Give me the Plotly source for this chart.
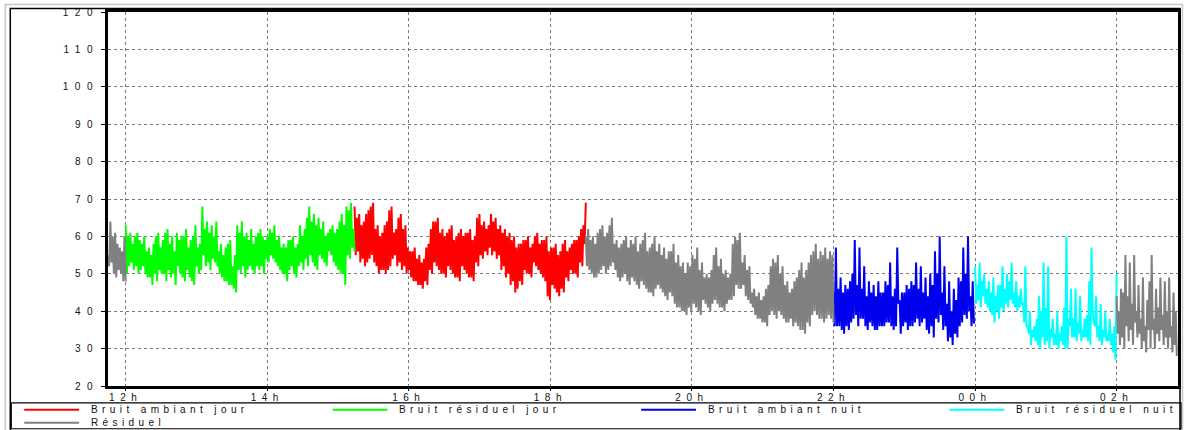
import numpy as np
import pandas as pd
import plotly.graph_objects as go

# ---------------- data (dB(A) levels) ----------------
series_names = ["Bruit ambiant jour", "Bruit résiduel jour", "Bruit ambiant nuit",
                "Bruit résiduel nuit", "Résiduel"]
series_colors = ["#FF0000", "#00FF00", "#0000F0", "#00FFFF", "#808080"]

# segment boundaries
grey1_span = ("2000-01-01 11:45", "2000-01-01 12:00")
green_span = ("2000-01-01 12:00", "2000-01-01 15:14")
red_span = ("2000-01-01 15:14", "2000-01-01 18:30")
grey2_span = ("2000-01-01 18:30", "2000-01-01 22:00")
blue_span = ("2000-01-01 22:00", "2000-01-02 00:00")
cyan_span = ("2000-01-02 00:00", "2000-01-02 02:00")
grey3_span = ("2000-01-02 02:00", "2000-01-02 02:51")

grey1_vals = [55, 52, 64, 53, 60, 50, 61, 49, 58, 51, 57, 50, 56, 48, 60, 48]
green_vals = [63, 50, 60, 52, 61, 53, 58, 51, 60, 52, 61, 50, 59, 51, 58, 52, 60, 50, 56, 49,
              57, 49, 55, 47, 58, 50, 60, 48, 61, 51, 57, 50, 59, 50, 61, 48, 62, 51, 58, 49,
              60, 50, 56, 47, 61, 52, 59, 50, 60, 49, 60, 48, 62, 51, 57, 49, 59, 48, 60, 47,
              63, 52, 57, 50, 58, 51, 68, 55, 62, 52, 64, 53, 61, 51, 63, 54, 60, 53, 64, 52,
              56, 50, 58, 49, 55, 48, 57, 48, 58, 47, 59, 47, 52, 46, 55, 45, 63, 51, 61, 50,
              64, 52, 60, 49, 61, 51, 59, 52, 62, 51, 58, 50, 60, 52, 61, 51, 62, 52, 60, 50,
              59, 54, 60, 53, 62, 55, 61, 54, 63, 53, 59, 52, 60, 51, 57, 50, 58, 50, 57, 48,
              59, 51, 59, 52, 60, 50, 57, 49, 58, 52, 63, 53, 60, 51, 62, 54, 65, 52, 68, 55,
              64, 53, 66, 52, 63, 51, 65, 55, 62, 54, 64, 53, 60, 52, 61, 56, 62, 55, 63, 53,
              61, 52, 62, 51, 64, 50, 66, 50, 63, 47, 68, 55, 67, 54, 69, 57, 62, 56]
red_vals = [68, 55, 65, 56, 66, 53, 63, 54, 64, 52, 66, 53, 67, 54, 68, 55, 69, 53, 62, 52,
            63, 50, 60, 51, 61, 51, 63, 50, 64, 51, 67, 52, 68, 54, 61, 55, 62, 52, 65, 53,
            66, 51, 62, 52, 63, 50, 57, 51, 56, 49, 56, 48, 57, 48, 54, 47, 55, 47, 53, 46,
            54, 48, 57, 47, 58, 51, 62, 50, 64, 53, 64, 52, 65, 51, 61, 50, 62, 50, 60, 49,
            61, 52, 62, 51, 63, 50, 59, 49, 60, 49, 61, 48, 62, 52, 60, 51, 61, 50, 61, 49,
            62, 49, 59, 48, 60, 53, 65, 52, 66, 55, 63, 54, 64, 56, 62, 55, 63, 57, 66, 55,
            64, 56, 65, 54, 62, 55, 63, 51, 61, 52, 62, 49, 60, 50, 61, 47, 59, 48, 60, 45,
            57, 46, 58, 48, 58, 47, 59, 51, 59, 50, 60, 50, 57, 49, 58, 53, 60, 52, 61, 51,
            58, 50, 59, 49, 59, 48, 60, 44, 56, 43, 57, 47, 57, 46, 58, 45, 55, 44, 56, 46,
            58, 45, 59, 49, 56, 48, 57, 51, 58, 50, 59, 50, 59, 49, 60, 53, 62, 52, 63, 58,
            69]
grey2_vals = [60, 52, 62, 51, 59, 50, 60, 49, 58, 49, 61, 50, 62, 51, 63, 52, 60, 50, 61, 51,
              63, 52, 65, 53, 58, 51, 59, 49, 57, 48, 58, 49, 59, 50, 60, 48, 57, 47, 59, 49,
              58, 48, 60, 47, 56, 46, 58, 48, 59, 47, 61, 46, 56, 45, 57, 45, 58, 44, 60, 46,
              56, 47, 58, 46, 55, 45, 57, 44, 54, 43, 56, 45, 56, 44, 58, 42, 53, 41, 55, 41,
              52, 40, 53, 40, 50, 39, 53, 41, 52, 40, 55, 42, 54, 41, 57, 40, 51, 39, 53, 43,
              49, 42, 50, 41, 49, 40, 51, 42, 55, 43, 57, 42, 52, 41, 54, 41, 50, 40, 51, 42,
              49, 43, 50, 43, 58, 44, 60, 47, 59, 46, 61, 46, 53, 47, 55, 44, 51, 43, 52, 42,
              45, 41, 46, 39, 44, 38, 45, 38, 43, 37, 44, 37, 46, 36, 47, 39, 52, 40, 54, 39,
              53, 38, 55, 40, 50, 39, 52, 38, 47, 37, 48, 37, 45, 38, 46, 36, 48, 37, 49, 36,
              51, 35, 53, 35, 49, 34, 51, 37, 53, 36, 55, 39, 56, 40, 58, 39, 54, 38, 56, 38,
              55, 37, 57, 38, 54, 39, 56, 38, 55, 37]
blue_vals = [45, 36, 57, 36, 46, 36, 49, 35, 45, 34, 47, 36, 46, 35, 48, 37, 50, 38, 59, 39,
             47, 36, 57, 38, 46, 38, 52, 36, 44, 35, 48, 37, 45, 36, 47, 35, 44, 35, 48, 36,
             45, 36, 45, 36, 48, 37, 47, 37, 53, 36, 44, 35, 46, 36, 57, 42, 43, 34, 45, 36,
             45, 37, 47, 35, 46, 36, 48, 36, 47, 37, 53, 38, 46, 36, 52, 37, 45, 38, 49, 35,
             44, 34, 50, 36, 47, 33, 56, 38, 50, 37, 60, 39, 45, 35, 52, 36, 42, 32, 48, 33,
             40, 31, 46, 34, 43, 33, 49, 36, 48, 37, 57, 39, 50, 38, 60, 40, 44, 36, 48, 37,
             37]
cyan_vals = [52, 42, 47, 43, 53, 41, 48, 44, 50, 42, 46, 41, 48, 40, 45, 39, 49, 37, 44, 40,
             47, 38, 47, 41, 52, 40, 46, 42, 50, 41, 48, 43, 53, 42, 45, 41, 48, 40, 44, 41,
             46, 42, 42, 37, 52, 36, 36, 34, 40, 31, 35, 33, 36, 32, 38, 31, 44, 30, 40, 33,
             53, 31, 41, 32, 52, 30, 35, 33, 38, 31, 34, 31, 40, 30, 34, 32, 36, 31, 41, 30,
             60, 30, 38, 36, 46, 33, 38, 33, 46, 32, 37, 34, 44, 32, 35, 33, 38, 33, 39, 32,
             48, 31, 57, 40, 37, 36, 44, 33, 36, 32, 42, 31, 35, 33, 40, 32, 34, 32, 38, 31,
             34, 29, 36, 27, 50]
grey3_vals = [44, 34, 40, 31, 46, 33, 45, 30, 55, 36, 44, 32, 53, 35, 42, 31, 55, 37, 40, 33,
              47, 34, 38, 30, 49, 32, 36, 29, 43, 35, 48, 30, 55, 35, 38, 30, 46, 34, 41, 32,
              49, 35, 39, 31, 48, 33, 40, 30, 49, 33, 36, 29, 45, 31, 40, 28]

y_ticks = [20, 30, 40, 50, 60, 70, 80, 90, 100, 110, 120]
x_tick_times = ["2000-01-01 12:00", "2000-01-01 14:00", "2000-01-01 16:00", "2000-01-01 18:00",
                "2000-01-01 20:00", "2000-01-01 22:00", "2000-01-02 00:00", "2000-01-02 02:00"]
x_tick_labels = ["12h", "14h", "16h", "18h", "20h", "22h", "00h", "02h"]
x_range = ["2000-01-01 11:45", "2000-01-02 02:52"]


def times(span, n):
    a, b = pd.Timestamp(span[0]), pd.Timestamp(span[1])
    return list(pd.to_datetime(np.linspace(a.value, b.value, n)))


# ---------------- geometry ----------------
W, H = 1187, 430
L, R, T, B = 108, 1181, 10, 386


def px(x):
    return (x - L) / (R - L)


def py(y):
    return (B - y) / (B - T)


FONT = "Liberation Sans, Arial, sans-serif"


def spaced(s, ls):
    return f'<span style="letter-spacing:{ls}px">{s}</span>'


fig = go.Figure()

# coloured series
spans = [(red_span, red_vals), (green_span, green_vals), (blue_span, blue_vals),
         (cyan_span, cyan_vals)]
for (span, vals), name, col in zip(spans, series_names[:4], series_colors[:4]):
    fig.add_trace(go.Scatter(x=times(span, len(vals)), y=vals, mode="lines", name=name,
                             line=dict(color=col, width=2), showlegend=False))

# grey residual pieces as a single trace with gaps
gx, gy = [], []
for span, vals in [(grey1_span, grey1_vals), (grey2_span, grey2_vals), (grey3_span, grey3_vals)]:
    gx += times(span, len(vals)) + [None]
    gy += vals + [None]
fig.add_trace(go.Scatter(x=gx, y=gy, mode="lines", name=series_names[4],
                         line=dict(color=series_colors[4], width=2), showlegend=False,
                         connectgaps=False))

shapes = []
annotations = []

# outer frames
shapes.append(dict(type="rect", xref="paper", yref="paper", x0=px(5), x1=px(1185.5),
                   y0=py(432), y1=py(2.5), line=dict(color="#C8C8C8", width=1.5)))
shapes.append(dict(type="rect", xref="paper", yref="paper", x0=px(10), x1=px(1183),
                   y0=py(431), y1=py(6.5), line=dict(color="#000000", width=1.5)))
# legend box
shapes.append(dict(type="rect", xref="paper", yref="paper", x0=px(11), x1=px(1184),
                   y0=py(429), y1=py(403), line=dict(color="#000000", width=1.2)))

# custom legend
for i, (name, col) in enumerate(zip(series_names, series_colors)):
    row, c = divmod(i, 4)
    x0 = 24 + c * 309.3
    yy = 410 + row * 13
    shapes.append(dict(type="line", xref="paper", yref="paper", x0=px(x0), x1=px(x0 + 55),
                       y0=py(yy), y1=py(yy), line=dict(color=col, width=2)))
    annotations.append(dict(xref="paper", yref="paper", x=px(x0 + 65), y=py(yy),
                            xanchor="left", yanchor="middle", showarrow=False,
                            text=spaced(name, 4.4),
                            font=dict(family=FONT, size=10, color="#111111")))

fig.update_layout(
    width=W, height=H,
    margin=dict(l=L, r=W - R, t=T, b=H - B),
    paper_bgcolor="white", plot_bgcolor="white",
    showlegend=False,
    shapes=shapes, annotations=annotations,
    font=dict(family=FONT, size=10, color="#111111"),
)
fig.update_xaxes(
    type="date", range=x_range,
    tickvals=x_tick_times, ticktext=[spaced(t, 5.5) for t in x_tick_labels],
    ticks="outside", ticklen=2, tickcolor="black", tickwidth=1,
    ticklabelstandoff=-2,
    showgrid=True, gridcolor="#7A7A7A", griddash="dot", gridwidth=1,
    showline=True, linecolor="black", linewidth=2.5, mirror=True,
    tickfont=dict(family=FONT, size=10, color="#111111"),
    zeroline=False,
)
fig.update_yaxes(
    range=[20, 120], tickvals=y_ticks, ticktext=[spaced(str(v), 6.5) for v in y_ticks],
    ticks="outside", ticklen=4, tickcolor="black", tickwidth=1,
    showgrid=True, gridcolor="#7A7A7A", griddash="dot", gridwidth=1,
    showline=True, linecolor="black", linewidth=3, mirror=True,
    tickfont=dict(family=FONT, size=10, color="#111111"),
    zeroline=False,
)

fig.write_html("out.html")
